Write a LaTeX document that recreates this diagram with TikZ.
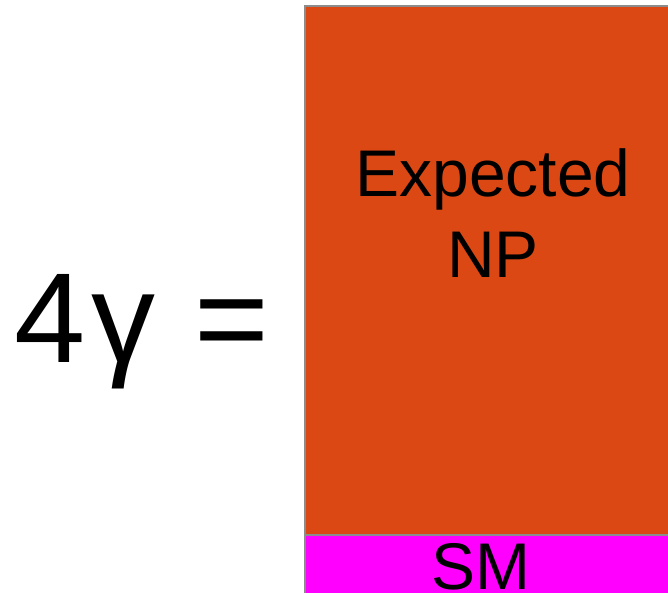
\documentclass[tikz,border=0pt]{standalone}
\usepackage{fontspec}
\setmainfont{Liberation Sans}
\definecolor{npor}{HTML}{DC4814}
\definecolor{smmag}{HTML}{FF00FF}
\definecolor{edge}{HTML}{8C8C8C}
\tikzset{
  big/.style={font=\fontsize{128}{150}\selectfont, inner sep=0pt, anchor=base west},
  lab/.style={font=\fontsize{66}{80}\selectfont, inner sep=0pt, anchor=base, align=center},
}
\begin{document}
\begin{tikzpicture}[x=1pt,y=-1pt]
\useasboundingbox (0,0) rectangle (668,593);
\clip (0,0) rectangle (668,593);
\fill[white] (0,0) rectangle (668,593);
\fill[npor] (305,6) rectangle (680,535);
\fill[smmag] (305,535) rectangle (680,600);
\draw[edge, line width=1.5pt] (305,600) -- (305,6) -- (680,6);
\draw[edge, line width=1.5pt] (305,535) -- (680,535);
\node[big] (lhs) at (14,362) {4\kern6ptγ\kern4pt\ =};
\node[lab] (np1) at (493,197) {Expected};
\node[lab] (np2) at (493,277) {NP};
\node[lab] (sm) at (481,589) {SM};
\end{tikzpicture}
\end{document}
